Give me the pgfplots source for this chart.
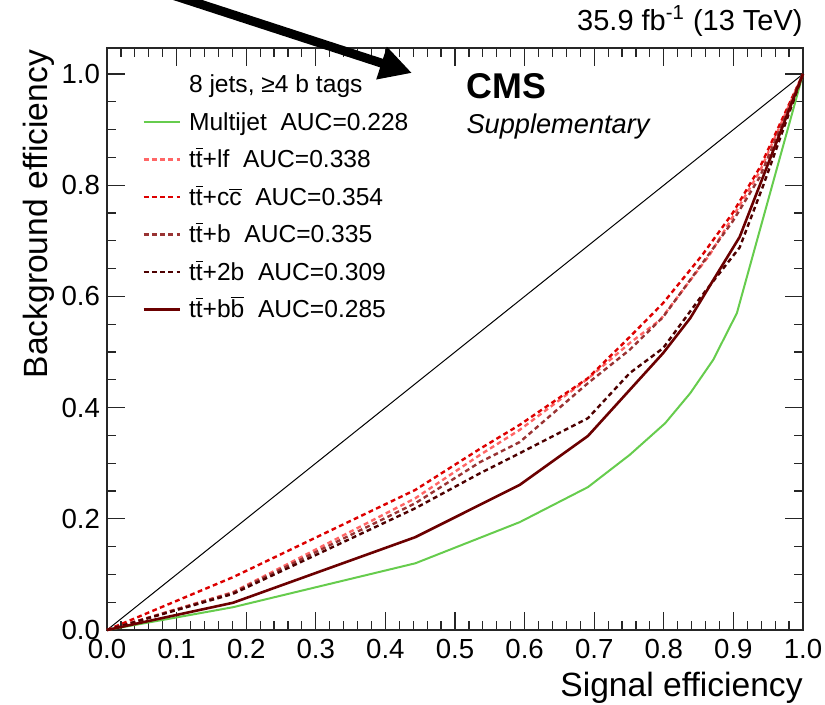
\documentclass[border=0pt]{standalone}
\usepackage{fontspec}
\setmainfont{Liberation Sans}
\usepackage{pgfplots}
\pgfplotsset{compat=1.18}
\usetikzlibrary{arrows.meta}
\definecolor{cmulti}{RGB}{102,204,77}
\definecolor{clf}{RGB}{255,102,102}
\definecolor{ccc}{RGB}{221,0,0}
\definecolor{cb}{RGB}{153,51,51}
\definecolor{c2b}{RGB}{77,0,0}
\definecolor{cbb}{RGB}{107,0,0}
\newcommand\ob[1]{\ensuremath{\overline{\hbox{#1}}}}
\begin{document}
\begin{tikzpicture}
\begin{axis}[
  scale only axis, width=348pt, height=291pt,
  xmin=0, xmax=1, ymin=0, ymax=1.0468,
  clip=false,
  xtick={0,0.1,0.2,0.3,0.4,0.5,0.6,0.7,0.8,0.9,1.0},
  ytick={0,0.2,0.4,0.6,0.8,1.0},
  minor x tick num=4, minor y tick num=3,
  tick align=inside, xtick pos=both, ytick pos=both,
  major tick length=9pt, minor tick length=4.5pt,
  every tick/.style={line width=0.6pt, black!85},
  axis line style={line width=0.7pt, black!85},
  tick label style={font=\fontsize{13.8}{16}\selectfont},
  xticklabel style={yshift=-1pt},
  /pgf/number format/.cd, fixed, fixed zerofill, precision=1, assume math mode=true, /pgfplots/.cd,
  xlabel={Signal efficiency},
  ylabel={Background efficiency},
  xlabel style={at={(rel axis cs:1,-0.1151)}, anchor=base east, inner sep=0pt, font=\fontsize{16.8}{19}\selectfont},
  ylabel style={at={(rel axis cs:-0.085,0.997)}, anchor=base east, inner sep=0pt, font=\fontsize{16.8}{19}\selectfont},
  legend style={at={(rel axis cs:0.0503,0.955)}, anchor=north west, draw=none, fill=none, inner sep=0pt,
    row sep=6.75pt, column sep=4pt, font=\fontsize{12.3}{14}\selectfont,
    nodes={inner sep=0pt, text height=9pt, text depth=3pt}, cells={anchor=base west}},
  legend image code/.code={\draw[#1] (0pt,4pt) -- (18pt,4pt);},
]
\addplot[black, line width=0.5pt, forget plot] coordinates {(0,0) (1,1)};
\addlegendimage{empty legend}
\addlegendentry{8 jets, ≥4 b tags}
\addplot[cmulti, line width=1pt] coordinates {
(0,0) (0.181,0.041) (0.443,0.120) (0.593,0.194) (0.691,0.257) (0.751,0.315) (0.802,0.372) (0.838,0.426) (0.871,0.486) (0.905,0.570) (1,1)};
\addlegendentry{Multijet\ \ AUC=0.228}
\addplot[clf, line width=1.2pt, dash pattern=on 2.4pt off 1.7pt] coordinates {
(0,0) (0.181,0.068) (0.443,0.237) (0.536,0.315) (0.593,0.360) (0.691,0.452) (0.751,0.516) (0.795,0.558) (0.866,0.675) (0.899,0.743) (0.938,0.825) (1,1)};
\addlegendentry{t\ob{t}+lf\ \ AUC=0.338}
\addplot[ccc, line width=1.2pt, dash pattern=on 2.4pt off 1.7pt] coordinates {
(0,0) (0.181,0.095) (0.443,0.252) (0.536,0.326) (0.593,0.369) (0.691,0.453) (0.751,0.527) (0.799,0.588) (0.855,0.674) (0.899,0.750) (0.938,0.832) (1,1)};
\addlegendentry{t\ob{t}+c\ob{c}\ \ AUC=0.354}
\addplot[cb, line width=1.2pt, dash pattern=on 2.4pt off 1.7pt] coordinates {
(0,0) (0.181,0.067) (0.443,0.228) (0.536,0.302) (0.593,0.338) (0.691,0.444) (0.751,0.504) (0.799,0.563) (0.848,0.647) (0.899,0.735) (0.938,0.815) (1,1)};
\addlegendentry{t\ob{t}+b\ \ AUC=0.335}
\addplot[c2b, line width=1.2pt, dash pattern=on 2.4pt off 1.7pt] coordinates {
(0,0) (0.181,0.065) (0.443,0.219) (0.536,0.282) (0.593,0.318) (0.691,0.381) (0.751,0.462) (0.799,0.507) (0.852,0.597) (0.909,0.688) (0.943,0.800) (1,1)};
\addlegendentry{t\ob{t}+2b\ \ AUC=0.309}
\addplot[cbb, line width=1.3pt] coordinates {
(0,0) (0.181,0.049) (0.443,0.167) (0.593,0.261) (0.691,0.349) (0.799,0.498) (0.838,0.561) (0.866,0.619) (0.909,0.707) (1,1)};
\addlegendentry{t\ob{t}+b\ob{b}\ \ AUC=0.285}
\node[anchor=base east, inner sep=0pt, font=\fontsize{14.5}{17}\selectfont] at (rel axis cs:1,1.0309) {35.9 fb\textsuperscript{-1} (13 TeV)};
\node[anchor=base west, inner sep=0pt, font=\bfseries\fontsize{17.9}{20}\selectfont] at (rel axis cs:0.516,0.914) {CMS};
\node[anchor=base west, inner sep=0pt, font=\itshape\fontsize{13.6}{16}\selectfont] at (rel axis cs:0.516,0.853) {Supplementary};
\draw[line width=4.5pt, -{Triangle[length=16pt,width=16pt]}] (axis cs:0.050,1.1600) -- (axis cs:0.4382,1.0018);
\coordinate (bbl) at (rel axis cs:-0.15374,-0.12715);
\coordinate (btr) at (rel axis cs:1.03161,1.08247);
\end{axis}
\pgfresetboundingbox
\useasboundingbox (bbl) rectangle (btr);
\end{tikzpicture}
\end{document}
